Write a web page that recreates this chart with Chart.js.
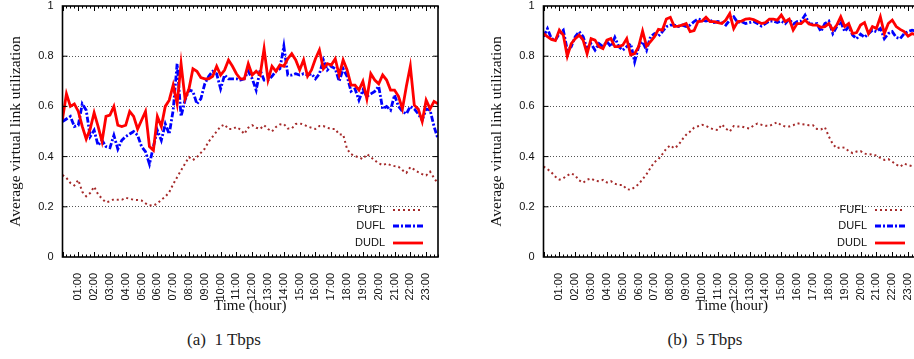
<!DOCTYPE html>
<html>
<head>
<meta charset="utf-8">
<script src="https://cdn.jsdelivr.net/npm/chart.js@4.4.1/dist/chart.umd.min.js"></script>
<style>
  html, body { margin: 0; padding: 0; overflow: hidden; background: #fff; }
  body { width: 914px; height: 359px; position: relative; }
  canvas { position: absolute; top: 0; }
  #chartA { left: 0; }
  #chartB { left: 460px; }
  .caption { position: absolute; top: 330px; font: 17px "Liberation Serif", serif; color: #222; white-space: pre; transform: translateX(-50%); }
</style>
</head>
<body>
<canvas id="chartA" width="460" height="320"></canvas>
<canvas id="chartB" width="482" height="320"></canvas>
<div class="caption" style="left:224px">(a)  1 Tbps</div>
<div class="caption" style="left:705px">(b)  5 Tbps</div>
<script>
// hour tick labels along the time axis
const hourLabels = ['01:00', '02:00', '03:00', '04:00', '05:00', '06:00', '07:00', '08:00',
    '09:00', '10:00', '11:00', '12:00', '13:00', '14:00', '15:00', '16:00',
    '17:00', '18:00', '19:00', '20:00', '21:00', '22:00', '23:00'];
const sampleStepHours = 0.25; // one sample every 15 minutes

// (a) 1 Tbps
const fuflA = [0.327, 0.315, 0.295, 0.285, 0.307, 0.26, 0.242, 0.255, 0.28, 0.25,
    0.232, 0.218, 0.222, 0.23, 0.228, 0.228, 0.236, 0.232, 0.228, 0.227,
    0.225, 0.214, 0.206, 0.205, 0.213, 0.228, 0.24, 0.258, 0.29, 0.318,
    0.345, 0.372, 0.398, 0.386, 0.398, 0.415, 0.432, 0.46, 0.48, 0.50,
    0.52, 0.528, 0.51, 0.51, 0.518, 0.508, 0.49, 0.515, 0.525, 0.515,
    0.51, 0.525, 0.51, 0.50, 0.518, 0.528, 0.53, 0.512, 0.512, 0.53,
    0.532, 0.528, 0.52, 0.515, 0.51, 0.522, 0.522, 0.515, 0.51, 0.51,
    0.488, 0.488, 0.43, 0.41, 0.402, 0.397, 0.39, 0.41, 0.398, 0.385,
    0.373, 0.366, 0.372, 0.366, 0.362, 0.36, 0.346, 0.335, 0.358, 0.348,
    0.338, 0.33, 0.325, 0.34, 0.315, 0.292];
const duflA = [0.54, 0.55, 0.56, 0.52, 0.525, 0.61, 0.585, 0.48, 0.505, 0.445,
    0.465, 0.44, 0.435, 0.485, 0.43, 0.465, 0.48, 0.49, 0.50, 0.485,
    0.44, 0.42, 0.37, 0.44, 0.505, 0.465, 0.53, 0.49, 0.585, 0.77,
    0.56, 0.625, 0.665, 0.66, 0.61, 0.63, 0.69, 0.72, 0.74, 0.73,
    0.67, 0.725, 0.71, 0.71, 0.71, 0.705, 0.71, 0.74, 0.71, 0.665,
    0.745, 0.705, 0.705, 0.72, 0.74, 0.75, 0.84, 0.725, 0.725, 0.73,
    0.725, 0.73, 0.725, 0.73, 0.71, 0.73, 0.785, 0.745, 0.76, 0.75,
    0.70, 0.75, 0.72, 0.66, 0.67, 0.625, 0.665, 0.64, 0.65, 0.66,
    0.68, 0.59, 0.60, 0.585, 0.645, 0.60, 0.58, 0.57, 0.60, 0.59,
    0.57, 0.545, 0.59, 0.585, 0.52, 0.47];
const dudlA = [0.55, 0.65, 0.60, 0.61, 0.58, 0.52, 0.47, 0.51, 0.575, 0.52,
    0.46, 0.56, 0.565, 0.60, 0.525, 0.52, 0.525, 0.58, 0.56, 0.51,
    0.545, 0.58, 0.44, 0.425, 0.56, 0.52, 0.60, 0.625, 0.685, 0.61,
    0.77, 0.63, 0.67, 0.75, 0.74, 0.715, 0.71, 0.71, 0.72, 0.76,
    0.725, 0.745, 0.785, 0.76, 0.73, 0.71, 0.71, 0.77, 0.725, 0.74,
    0.725, 0.83, 0.705, 0.76, 0.74, 0.765, 0.76, 0.79, 0.81, 0.785,
    0.745, 0.785, 0.72, 0.745, 0.79, 0.825, 0.75, 0.77, 0.765, 0.79,
    0.725, 0.785, 0.745, 0.685, 0.685, 0.665, 0.70, 0.63, 0.73, 0.705,
    0.69, 0.725, 0.705, 0.665, 0.665, 0.64, 0.59, 0.68, 0.76, 0.605,
    0.59, 0.54, 0.625, 0.59, 0.62, 0.61];

// (b) 5 Tbps
const fuflB = [0.36, 0.35, 0.337, 0.32, 0.308, 0.314, 0.325, 0.333, 0.325, 0.305,
    0.296, 0.308, 0.313, 0.304, 0.302, 0.307, 0.297, 0.302, 0.292, 0.287,
    0.287, 0.27, 0.268, 0.278, 0.29, 0.31, 0.33, 0.355, 0.378, 0.39,
    0.41, 0.432, 0.445, 0.433, 0.445, 0.468, 0.487, 0.50, 0.515, 0.521,
    0.527, 0.522, 0.514, 0.508, 0.506, 0.528, 0.512, 0.50, 0.522, 0.52,
    0.52, 0.515, 0.512, 0.524, 0.532, 0.527, 0.523, 0.522, 0.53, 0.537,
    0.525, 0.52, 0.52, 0.525, 0.533, 0.53, 0.528, 0.525, 0.525, 0.51,
    0.508, 0.517, 0.48, 0.45, 0.433, 0.438, 0.435, 0.422, 0.414, 0.42,
    0.422, 0.412, 0.408, 0.41, 0.404, 0.395, 0.387, 0.39, 0.38, 0.368,
    0.36, 0.372, 0.366, 0.362, 0.365, 0.368];
const duflB = [0.878, 0.91, 0.87, 0.864, 0.89, 0.904, 0.824, 0.838, 0.878, 0.898,
    0.878, 0.83, 0.85, 0.824, 0.85, 0.838, 0.858, 0.838, 0.875, 0.838,
    0.824, 0.838, 0.85, 0.778, 0.838, 0.858, 0.824, 0.878, 0.89, 0.88,
    0.898, 0.918, 0.924, 0.924, 0.918, 0.924, 0.918, 0.924, 0.938, 0.948,
    0.944, 0.94, 0.944, 0.934, 0.938, 0.934, 0.924, 0.944, 0.957, 0.934,
    0.938, 0.93, 0.934, 0.938, 0.93, 0.92, 0.93, 0.94, 0.94, 0.934,
    0.94, 0.93, 0.948, 0.928, 0.938, 0.94, 0.964, 0.93, 0.928, 0.93,
    0.898, 0.93, 0.94, 0.89, 0.918, 0.938, 0.898, 0.918, 0.884, 0.87,
    0.888, 0.875, 0.89, 0.904, 0.898, 0.91, 0.87, 0.89, 0.898, 0.875,
    0.87, 0.89, 0.898, 0.904, 0.9, 0.9];
const dudlB = [0.89, 0.878, 0.867, 0.862, 0.904, 0.884, 0.80, 0.85, 0.87, 0.884,
    0.864, 0.81, 0.87, 0.864, 0.838, 0.83, 0.864, 0.87, 0.838, 0.838,
    0.844, 0.87, 0.805, 0.81, 0.838, 0.90, 0.84, 0.858, 0.878, 0.907,
    0.904, 0.948, 0.955, 0.918, 0.92, 0.924, 0.93, 0.898, 0.902, 0.938,
    0.94, 0.955, 0.938, 0.938, 0.934, 0.93, 0.944, 0.97, 0.91, 0.938,
    0.94, 0.948, 0.95, 0.946, 0.938, 0.93, 0.934, 0.948, 0.948, 0.944,
    0.964, 0.938, 0.948, 0.904, 0.93, 0.93, 0.944, 0.928, 0.924, 0.924,
    0.915, 0.918, 0.93, 0.904, 0.924, 0.957, 0.918, 0.93, 0.89, 0.894,
    0.924, 0.934, 0.89, 0.918, 0.91, 0.957, 0.89, 0.93, 0.944, 0.918,
    0.907, 0.898, 0.88, 0.89, 0.885, 0.89];

const SANS = '"Liberation Sans", Arial, sans-serif';
const SERIF = '"Liberation Serif", "Times New Roman", serif';

function toPoints(values) {
    return values.map((v, i) => ({ x: i * sampleStepHours, y: v }));
}

// frame, inward tick marks and the in-plot legend, gnuplot style
const framePlugin = {
    id: 'frame',
    afterDatasetsDraw(chart) {
        const { ctx, chartArea: a, scales } = chart;
        const x = scales.x, y = scales.y;
        ctx.save();
        ctx.strokeStyle = '#000';
        ctx.lineWidth = 1;
        ctx.beginPath();
        for (let h = 0; h <= x.max; h += sampleStepHours) {
            const px = Math.round(x.getPixelForValue(h)) + 0.5;
            const len = Number.isInteger(h) ? 5 : 2.5;
            ctx.moveTo(px, a.bottom); ctx.lineTo(px, a.bottom - len);
            ctx.moveTo(px, a.top); ctx.lineTo(px, a.top + len);
        }
        for (let v = 0.2; v < 1; v += 0.2) {
            const py = y.getPixelForValue(v);
            ctx.moveTo(a.left, py); ctx.lineTo(a.left + 5, py);
            ctx.moveTo(a.right, py); ctx.lineTo(a.right - 5, py);
        }
        ctx.stroke();
        ctx.lineWidth = 1.6;
        ctx.strokeRect(a.left, a.top, a.right - a.left, a.bottom - a.top);

        // legend
        const rows = [2, 1, 0].map(i => chart.data.datasets.find(d => d.order === i));
        const offsets = [47, 31, 14];
        ctx.font = '11px ' + SANS;
        ctx.textAlign = 'right';
        ctx.textBaseline = 'middle';
        rows.forEach((ds, k) => {
            const yy = a.bottom - offsets[k];
            ctx.fillStyle = '#111';
            ctx.fillText(ds.label, a.right - 53, yy);
            ctx.strokeStyle = ds.borderColor;
            ctx.lineWidth = ds.borderWidth;
            ctx.setLineDash(ds.borderDash || []);
            ctx.beginPath();
            ctx.moveTo(a.right - 45, yy);
            ctx.lineTo(a.right - 15, yy);
            ctx.stroke();
        });
        ctx.restore();
    }
};

function makeChart(id, fufl, dufl, dudl, padLeft) {
    return new Chart(document.getElementById(id), {
        type: 'line',
        data: {
            datasets: [
                { label: 'DUDL', data: toPoints(dudl), borderColor: '#ff0000', borderWidth: 2.8, order: 0 },
                { label: 'DUFL', data: toPoints(dufl), borderColor: '#0000ff', borderWidth: 2.8, borderDash: [6, 2, 2, 2], order: 1 },
                { label: 'FUFL', data: toPoints(fufl), borderColor: '#a52a2a', borderWidth: 2, borderDash: [2, 3], order: 2 }
            ]
        },
        options: {
            responsive: false,
            animation: false,
            layout: { padding: { left: padLeft, top: 6, right: 22, bottom: 5 } },
            elements: { point: { radius: 0 }, line: { tension: 0, fill: false } },
            plugins: { legend: { display: false }, tooltip: { enabled: false } },
            scales: {
                x: {
                    type: 'linear',
                    min: 0,
                    max: (fufl.length - 1) * sampleStepHours,
                    afterFit: s => { s.height = 58; s.paddingLeft = 0; s.paddingRight = 0; },
                    afterBuildTicks: s => { s.ticks = hourLabels.map((_, i) => ({ value: i + 1 })); },
                    grid: { display: false },
                    border: { display: false },
                    ticks: {
                        autoSkip: false,
                        minRotation: 90,
                        maxRotation: 90,
                        padding: 8,
                        color: '#111',
                        font: { family: SANS, size: 11 },
                        callback: v => hourLabels[v - 1]
                    },
                    title: { display: true, text: 'Time (hour)', color: '#111', padding: { top: 0, bottom: 0 }, font: { family: SERIF, size: 15 } }
                },
                y: {
                    min: 0,
                    max: 1,
                    afterFit: s => { s.width = 62.5; s.paddingTop = 0; s.paddingBottom = 0; },
                    border: { display: false, dash: [1, 2] },
                    grid: {
                        drawTicks: false,
                        color: c => (c.tick.value > 0 && c.tick.value < 1) ? '#555' : 'rgba(0,0,0,0)',
                        lineWidth: 1
                    },
                    ticks: {
                        stepSize: 0.2,
                        padding: 9,
                        color: '#111',
                        font: { family: SANS, size: 11 },
                        callback: v => (v === 0 || v === 1) ? String(v) : v.toFixed(1)
                    },
                    title: { display: true, text: 'Average virtual link utilization', color: '#111', padding: { top: 7, bottom: 0 }, font: { family: SERIF, size: 15.5 } }
                }
            }
        },
        plugins: [framePlugin]
    });
}

makeChart('chartA', fuflA, duflA, dudlA, 0);
makeChart('chartB', fuflB, duflB, dudlB, 21);
</script>
</body>
</html>
